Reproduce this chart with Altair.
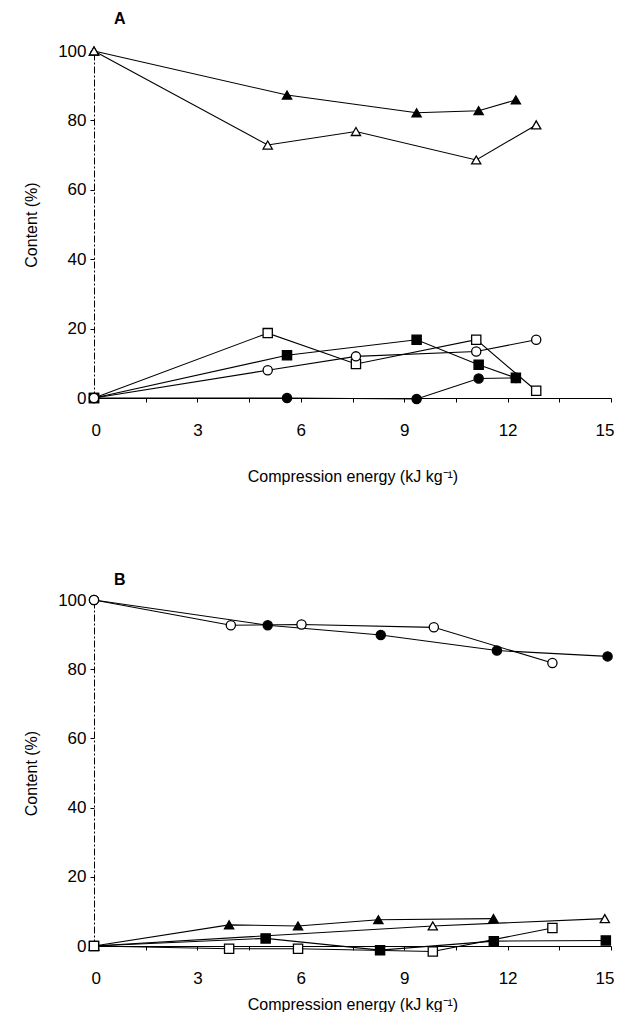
import altair as alt
import pandas as pd

# ---------------- Panel A ----------------
a_tri_filled_x = [0, 5.6, 9.36, 11.16, 12.24]
a_tri_filled_y = [100, 87.3, 82.2, 82.8, 85.9]
a_tri_open_x = [0, 5.04, 7.6, 11.09, 12.83]
a_tri_open_y = [100, 72.9, 76.8, 68.6, 78.7]
a_sq_open_x = [0, 5.04, 7.6, 11.09, 12.83]
a_sq_open_y = [0, 18.7, 9.8, 16.8, 2.1]
a_sq_filled_x = [0, 5.6, 9.36, 11.16, 12.24]
a_sq_filled_y = [0, 12.3, 16.8, 9.6, 5.8]
a_circ_open_x = [0, 5.04, 7.6, 11.09, 12.83]
a_circ_open_y = [0, 8.0, 12.0, 13.4, 16.8]
a_circ_filled_x = [0, 5.6, 9.36, 11.16, 12.24]
a_circ_filled_y = [0, 0, -0.3, 5.6, 5.8]

# ---------------- Panel B ----------------
b_circ_open_x = [0, 3.97, 6.02, 9.86, 13.3]
b_circ_open_y = [100, 92.7, 92.9, 92.1, 81.8]
b_circ_filled_x = [0, 5.04, 8.32, 11.69, 14.9]
b_circ_filled_y = [100, 92.7, 89.9, 85.4, 83.7]
b_sq_open_x = [0, 3.92, 5.92, 9.83, 13.3]
b_sq_open_y = [0, -0.8, -0.8, -1.6, 5.2]
b_sq_filled_x = [0, 4.98, 8.3, 11.6, 14.85]
b_sq_filled_y = [0, 2.2, -1.2, 1.4, 1.6]
b_tri_filled_x = [0, 3.92, 5.92, 8.25, 11.59]
b_tri_filled_y = [0, 6.1, 5.8, 7.6, 7.9]
b_tri_open_x = [0, 9.83, 14.82]
b_tri_open_y = [0, 5.8, 7.9]

series_names = ["tri_filled", "tri_open", "sq_filled", "sq_open", "circ_filled", "circ_open"]
series_shapes = ["triangle-up", "triangle-up", "square", "square", "circle", "circle"]
series_fills = ["black", "white", "black", "white", "black", "white"]

x_ticks = [0, 1.5, 3, 4.5, 6, 7.5, 9, 10.5, 12, 13.5, 15]
y_ticks = [0, 10, 20, 30, 40, 50, 60, 70, 80, 90, 100]

FONT = "Liberation Sans"


def build_df(items):
    rows = []
    for name, xs, ys in items:
        for i, (x, y) in enumerate(zip(xs, ys)):
            rows.append({"series": name, "x": x, "y": y, "idx": i})
    return pd.DataFrame(rows)


df_a = build_df([
    ("tri_filled", a_tri_filled_x, a_tri_filled_y),
    ("tri_open", a_tri_open_x, a_tri_open_y),
    ("sq_filled", a_sq_filled_x, a_sq_filled_y),
    ("sq_open", a_sq_open_x, a_sq_open_y),
    ("circ_filled", a_circ_filled_x, a_circ_filled_y),
    ("circ_open", a_circ_open_x, a_circ_open_y),
])

df_b = build_df([
    ("tri_filled", b_tri_filled_x, b_tri_filled_y),
    ("tri_open", b_tri_open_x, b_tri_open_y),
    ("sq_filled", b_sq_filled_x, b_sq_filled_y),
    ("sq_open", b_sq_open_x, b_sq_open_y),
    ("circ_filled", b_circ_filled_x, b_circ_filled_y),
    ("circ_open", b_circ_open_x, b_circ_open_y),
])


def panel(df, letter, title_offset, x_title_pad, h):
    x_enc = alt.X(
        "x:Q",
        scale=alt.Scale(domain=[0, 15], nice=False, zero=False),
        axis=alt.Axis(
            values=x_ticks,
            labelExpr="datum.value % 3 == 0 ? format(datum.value, 'd') : ''",
            title="Compression energy (kJ kg\u207b\u00b9)",
            titleFont=FONT, titleFontSize=16, titleFontWeight="normal",
            titleColor="black", titlePadding=x_title_pad,
            labelFont=FONT, labelFontSize=17, labelColor="black",
            labelPadding=20, tickSize=4, tickColor="black",
            domainColor="black", grid=False,
            labelFlush=True, labelFlushOffset=3,
        ),
    )
    y_enc = alt.Y(
        "y:Q",
        scale=alt.Scale(domain=[0, 100], nice=False),
        axis=alt.Axis(
            values=y_ticks,
            labelExpr="datum.value % 20 == 0 ? format(datum.value, 'd') : ''",
            title="Content (%)",
            titleFont=FONT, titleFontSize=16, titleFontWeight="normal",
            titleColor="black", titlePadding=18,
            labelFont=FONT, labelFontSize=17, labelColor="black",
            labelPadding=4, tickSize=4, tickColor="black",
            domainColor="black", domainDash=[7, 2, 2, 2], grid=False,
            labelFlush=False,
        ),
    )
    base = alt.Chart(df)
    lines = base.mark_line(color="black", strokeWidth=1.1).encode(
        x=x_enc, y=y_enc, detail="series:N", order="idx:Q"
    )
    pts = base.mark_point(size=85, stroke="black", strokeWidth=1.3, opacity=1, filled=False).encode(
        x="x:Q",
        y="y:Q",
        shape=alt.Shape("series:N", scale=alt.Scale(domain=series_names, range=series_shapes), legend=None),
        fill=alt.Fill("series:N", scale=alt.Scale(domain=series_names, range=series_fills), legend=None),
    )
    return alt.layer(lines, pts).properties(
        width=517,
        height=h,
        title=alt.TitleParams(
            letter, anchor="start", frame="group", dx=20, offset=title_offset,
            font=FONT, fontSize=16, fontWeight="bold", color="black",
        ),
    )


chart = alt.vconcat(
    panel(df_a, "A", 15, 30, 347),
    panel(df_b, "B", 3, 10, 346),
    spacing=88,
).properties(
    padding={"left": 15, "top": 3, "right": 0, "bottom": 0}
).configure_view(stroke=None).configure_concat(spacing=88)

chart.save("out.html", embed_options={"renderer": "svg", "actions": False})
